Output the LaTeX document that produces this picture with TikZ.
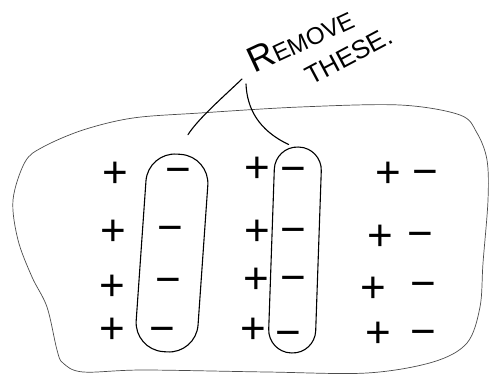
\documentclass[tikz,border=0pt]{standalone}
\usepackage{fontspec}
\setmainfont{Liberation Sans}
\usetikzlibrary{calc}
\tikzset{
  charge sign/.style={inner sep=0pt,font=\fontsize{44}{44}\selectfont,
    text height=30.8pt,text depth=0pt},
  sketch outline/.style={draw=black!70,line width=0.7pt},
  removal loop/.style={draw=black,line width=1.1pt,inner sep=0pt},
  pointer line/.style={line width=1.1pt,line cap=round},
  note text/.style={inner sep=0pt,font=\fontsize{24}{24}\selectfont}
}

\begin{document}
\begin{tikzpicture}[x=1pt,y=-1pt]
  \useasboundingbox (0,0) rectangle (490,377);
  % outline of the region
  \draw[sketch outline] plot[smooth cycle,tension=0.55] coordinates {
    (13,200) (25,162) (43,147) (83,130) (133,118) (200,113) (300,107)
    (400,105) (460,115) (477,133) (487,160) (488,200) (483,263) (480,307)
    (467,343) (433,362) (367,373) (267,372) (143,370) (83,372) (63,363)
    (57,350) (47,307) (32,277) (18,240)};
  % pairs of charges
  \foreach \n/\x/\y in {a/115/172,b/113/230,c/112/285,d/112/328,
      e/257/167,f/257/230,g/256/278,h/253/328,
      i/388/172,j/380/235,k/373/287,l/378/332}
    \node[charge sign] (plus\n) at (\x,\y) {+};
  \foreach \n/\x/\y in {a/178/169,b/170/227,c/168/279,d/162/328,
      e/293/168,f/293/229,g/293/277,h/288/332,
      i/425/171,j/420/233,k/423/283,l/423/331}
    \node[charge sign] (minus\n) at (\x,\y) {\char"2212};
  % loops round the charges to remove
  \node[removal loop,rounded corners=29pt,minimum width=62pt,
    minimum height=198pt,rotate=-4] (loopone) at (172,253) {};
  \node[removal loop,rounded corners=23pt,minimum width=47pt,
    minimum height=206pt,rotate=-2] (looptwo) at (295,250) {};
  % note
  \node[note text,rotate=25] (removeword) at (300,39)
    {{\fontsize{36}{36}\selectfont R}EMOVE};
  \node[note text,rotate=28,font=\fontsize{26}{26}\selectfont]
    (theseword) at (349,56) {THESE.};
  \coordinate (tipleft) at (242,79);
  \coordinate (tipright) at (246,84);
  \draw[pointer line] (tipleft) .. controls (222,98) and (198,119)
    .. ($(loopone.north)+(9,-19)$);
  \draw[pointer line] (tipright) .. controls (247,108) and (258,130)
    .. ($(looptwo.north)+(-10,-2)$);
\end{tikzpicture}
\end{document}
